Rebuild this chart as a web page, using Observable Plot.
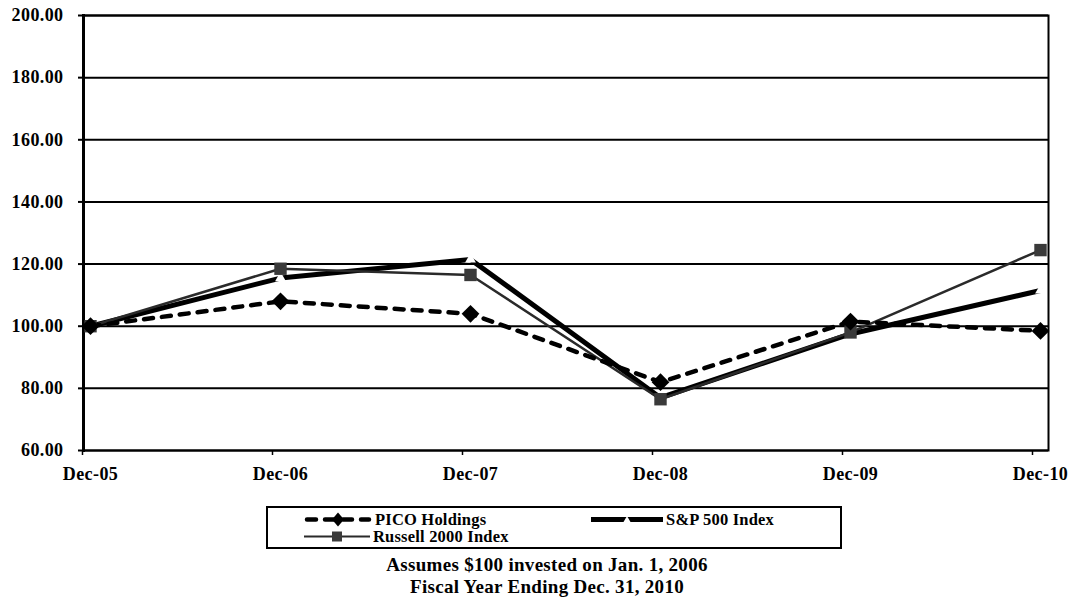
<!DOCTYPE html>
<html>
<head>
<meta charset="utf-8">
<script src="https://cdn.jsdelivr.net/npm/d3@7"></script>
<script src="https://cdn.jsdelivr.net/npm/@observablehq/plot@0.6"></script>
<style>
  html,body{margin:0;padding:0;background:#fff;}
  #wrap{position:relative;width:1073px;height:600px;overflow:hidden;font-family:"Liberation Serif","Times New Roman",serif;font-weight:bold;color:#000;}
  #chart{position:absolute;left:0;top:0;}
  #legend{position:absolute;left:266px;top:506px;width:572px;height:39px;border:2.5px solid #000;}
  .item{position:absolute;display:flex;align-items:center;font-size:16.5px;line-height:17px;height:17px;white-space:nowrap;letter-spacing:0.2px;}
  .item svg{display:block;margin-right:3px;}
  .cap{position:absolute;left:0;width:1094px;text-align:center;font-size:19px;line-height:22px;letter-spacing:0.3px;}
</style>
</head>
<body>
<div id="wrap">
  <div id="chart"></div>
  <div id="legend"></div>
  <div class="cap" id="cap1" style="top:554px"></div>
  <div class="cap" id="cap2" style="top:576px"></div>
</div>
<script>
const periods = ["Dec-05", "Dec-06", "Dec-07", "Dec-08", "Dec-09", "Dec-10"];
const seriesNames = ["PICO Holdings", "S&P 500 Index", "Russell 2000 Index"];
const picoValues = [100, 108, 104, 82, 101.5, 98.5];
const spValues = [100, 115.5, 121.5, 77, 97.5, 111.5];
const russellValues = [100, 118.5, 116.5, 76.5, 98, 124.5];
const yTicks = [60, 80, 100, 120, 140, 160, 180, 200];
const captions = ["Assumes $100 invested on Jan. 1, 2006", "Fiscal Year Ending Dec. 31, 2010"];

const toRows = (vals, s) => periods.map((p, i) => ({period: p, value: vals[i], series: s}));
const pico = toRows(picoValues, seriesNames[0]);
const sp = toRows(spValues, seriesNames[1]);
const russell = toRows(russellValues, seriesNames[2]);

const chart = Plot.plot({
  width: 1073,
  height: 490,
  marginLeft: 83,
  marginRight: 25,
  marginTop: 15,
  marginBottom: 40,
  style: {
    fontFamily: '"Liberation Serif", "Times New Roman", serif',
    fontWeight: "bold",
    fontSize: "18px",
    letterSpacing: "0.4px",
    color: "#000",
    background: "#fff",
    overflow: "visible"
  },
  x: {type: "point", domain: periods, padding: 0, insetLeft: 7, insetRight: 8, label: null},
  y: {domain: [60, 200], label: null},
  marks: [
    Plot.gridY(yTicks, {stroke: "#000", strokeOpacity: 1, strokeWidth: 2}),
    Plot.frame({stroke: "#000", strokeWidth: 2}),
    Plot.frame({anchor: "left", stroke: "#000", strokeWidth: 3}),
    Plot.axisY(yTicks, {tickFormat: d3.format(".2f"), tickSize: 5, tickPadding: 15, strokeWidth: 2, label: null}),
    Plot.axisX({tickSize: 5, tickPadding: 12, dx: -8, strokeWidth: 1.5, tickFormat: () => "", label: null}),
    Plot.axisX({tickSize: 0, tickPadding: 17, label: null}),
    Plot.line(sp, {x: "period", y: "value", stroke: "#000", strokeWidth: 5}),
    Plot.line(russell, {x: "period", y: "value", stroke: "#2a2a2a", strokeWidth: 2.5}),
    Plot.line(pico, {x: "period", y: "value", stroke: "#000", strokeWidth: 4.5, strokeDasharray: "9,9", strokeLinecap: "round"}),
    Plot.dot(sp, {x: "period", y: "value", symbol: "triangle", r: 4, fill: "#fff", stroke: null}),
    Plot.dot(russell, {x: "period", y: "value", symbol: "square", r: 7, fill: "#3a3a3a", stroke: null}),
    Plot.dot(pico, {x: "period", y: "value", symbol: "diamond2", r: 8, fill: "#000", stroke: null})
  ]
});
document.getElementById("chart").appendChild(chart);

// Legend
const swatches = [
  `<svg width="68" height="17"><line x1="3" y1="8.5" x2="65" y2="8.5" stroke="#000" stroke-width="4.5" stroke-dasharray="9,9" stroke-linecap="round"/><path d="M34,1.5 L40,8.5 L34,15.5 L28,8.5Z" fill="#000"/></svg>`,
  `<svg width="72" height="17"><line x1="0" y1="8.5" x2="72" y2="8.5" stroke="#000" stroke-width="5"/><path d="M36,5 L39.5,11 L32.5,11Z" fill="#fff"/></svg>`,
  `<svg width="66" height="17"><line x1="0" y1="8.5" x2="66" y2="8.5" stroke="#2a2a2a" stroke-width="2"/><rect x="28" y="3.5" width="10" height="10" fill="#3a3a3a"/></svg>`
];
const legendPos = [[36, 3], [323, 3], [36, 20]];
const legend = document.getElementById("legend");
seriesNames.forEach((name, i) => {
  const div = document.createElement("div");
  div.className = "item";
  div.style.left = legendPos[i][0] + "px";
  div.style.top = legendPos[i][1] + "px";
  div.innerHTML = swatches[i];
  const span = document.createElement("span");
  span.textContent = name;
  div.appendChild(span);
  legend.appendChild(div);
});
document.getElementById("cap1").textContent = captions[0];
document.getElementById("cap2").textContent = captions[1];
</script>
</body>
</html>
